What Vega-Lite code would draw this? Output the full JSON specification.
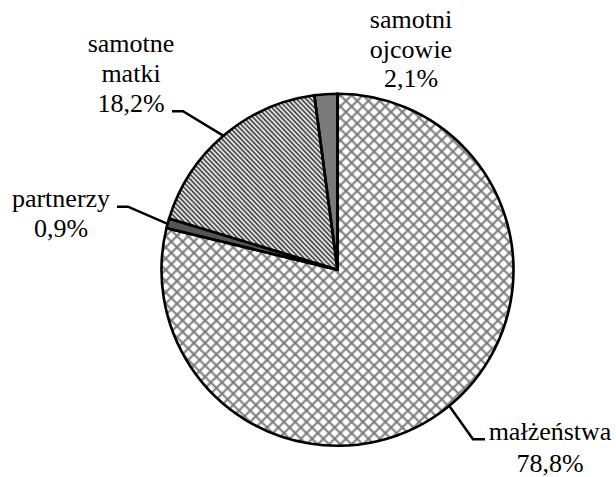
{
"$schema":"https://vega.github.io/schema/vega-lite/v6.json",
"width":616,"height":477,"padding":0,
"autosize":{"type":"fit","contains":"padding"},
"background":"white",
"config":{"view":{"stroke":null},"text":{"font":"'Liberation Serif', 'Times New Roman', serif"}},
"layer":[
{"data":{"values":[
{"cat":"małżeństwa","pct":78.8,"ord":1},
{"cat":"partnerzy","pct":0.9,"ord":2},
{"cat":"samotne matki","pct":18.2,"ord":3},
{"cat":"samotni ojcowie","pct":2.1,"ord":4}]},
"encoding":{
"theta":{"field":"pct","type":"quantitative","stack":true},
"order":{"field":"ord","type":"quantitative"},
"detail":{"field":"cat","type":"nominal"},
"x":{"datum":337.5,"type":"quantitative","scale":{"domain":[0,616]},"axis":null},
"y":{"datum":271.5,"type":"quantitative","scale":{"domain":[0,477],"reverse":true},"axis":null}},
"layer":[
{"mark":{"type":"arc","radius":176,"strokeWidth":0},
"encoding":{"fill":{"condition":[{"test":"datum.ord===2","value":"#555"},{"test":"datum.ord===4","value":"#7a7a7a"}],"value":"#ffffff"}}},
{"mark":{"type":"arc","radius":176,"strokeWidth":0,"fill":{"gradient":"linear","x1":0,"y1":0,"x2":1,"y2":1,"stops":[
{"offset":0,"color":"#777"},{"offset":0.004,"color":"#fff"},{"offset":0.012,"color":"#fff"},
{"offset":0.016,"color":"#777"},{"offset":0.02,"color":"#fff"},{"offset":0.028,"color":"#fff"},
{"offset":0.032,"color":"#777"},{"offset":0.036,"color":"#fff"},{"offset":0.044,"color":"#fff"},
{"offset":0.048,"color":"#777"},{"offset":0.052,"color":"#fff"},{"offset":0.06,"color":"#fff"},
{"offset":0.064,"color":"#777"},{"offset":0.068,"color":"#fff"},{"offset":0.076,"color":"#fff"},
{"offset":0.08,"color":"#777"},{"offset":0.084,"color":"#fff"},{"offset":0.092,"color":"#fff"},
{"offset":0.096,"color":"#777"},{"offset":0.1,"color":"#fff"},{"offset":0.108,"color":"#fff"},
{"offset":0.112,"color":"#777"},{"offset":0.116,"color":"#fff"},{"offset":0.124,"color":"#fff"},
{"offset":0.128,"color":"#777"},{"offset":0.132,"color":"#fff"},{"offset":0.14,"color":"#fff"},
{"offset":0.144,"color":"#777"},{"offset":0.148,"color":"#fff"},{"offset":0.156,"color":"#fff"},
{"offset":0.16,"color":"#777"},{"offset":0.164,"color":"#fff"},{"offset":0.172,"color":"#fff"},
{"offset":0.176,"color":"#777"},{"offset":0.18,"color":"#fff"},{"offset":0.188,"color":"#fff"},
{"offset":0.192,"color":"#777"},{"offset":0.196,"color":"#fff"},{"offset":0.204,"color":"#fff"},
{"offset":0.208,"color":"#777"},{"offset":0.212,"color":"#fff"},{"offset":0.22,"color":"#fff"},
{"offset":0.224,"color":"#777"},{"offset":0.228,"color":"#fff"},{"offset":0.236,"color":"#fff"},
{"offset":0.24,"color":"#777"},{"offset":0.244,"color":"#fff"},{"offset":0.252,"color":"#fff"},
{"offset":0.256,"color":"#777"},{"offset":0.26,"color":"#fff"},{"offset":0.268,"color":"#fff"},
{"offset":0.272,"color":"#777"},{"offset":0.276,"color":"#fff"},{"offset":0.284,"color":"#fff"},
{"offset":0.288,"color":"#777"},{"offset":0.292,"color":"#fff"},{"offset":0.3,"color":"#fff"},
{"offset":0.304,"color":"#777"},{"offset":0.308,"color":"#fff"},{"offset":0.316,"color":"#fff"},
{"offset":0.32,"color":"#777"},{"offset":0.324,"color":"#fff"},{"offset":0.332,"color":"#fff"},
{"offset":0.336,"color":"#777"},{"offset":0.34,"color":"#fff"},{"offset":0.348,"color":"#fff"},
{"offset":0.352,"color":"#777"},{"offset":0.356,"color":"#fff"},{"offset":0.364,"color":"#fff"},
{"offset":0.368,"color":"#777"},{"offset":0.372,"color":"#fff"},{"offset":0.38,"color":"#fff"},
{"offset":0.384,"color":"#777"},{"offset":0.388,"color":"#fff"},{"offset":0.396,"color":"#fff"},
{"offset":0.4,"color":"#777"},{"offset":0.404,"color":"#fff"},{"offset":0.412,"color":"#fff"},
{"offset":0.416,"color":"#777"},{"offset":0.42,"color":"#fff"},{"offset":0.428,"color":"#fff"},
{"offset":0.432,"color":"#777"},{"offset":0.436,"color":"#fff"},{"offset":0.444,"color":"#fff"},
{"offset":0.448,"color":"#777"},{"offset":0.452,"color":"#fff"},{"offset":0.46,"color":"#fff"},
{"offset":0.464,"color":"#777"},{"offset":0.468,"color":"#fff"},{"offset":0.476,"color":"#fff"},
{"offset":0.48,"color":"#777"},{"offset":0.484,"color":"#fff"},{"offset":0.492,"color":"#fff"},
{"offset":0.496,"color":"#777"},{"offset":0.5,"color":"#fff"},{"offset":0.508,"color":"#fff"},
{"offset":0.512,"color":"#777"},{"offset":0.516,"color":"#fff"},{"offset":0.524,"color":"#fff"},
{"offset":0.528,"color":"#777"},{"offset":0.532,"color":"#fff"},{"offset":0.54,"color":"#fff"},
{"offset":0.544,"color":"#777"},{"offset":0.548,"color":"#fff"},{"offset":0.556,"color":"#fff"},
{"offset":0.56,"color":"#777"},{"offset":0.564,"color":"#fff"},{"offset":0.572,"color":"#fff"},
{"offset":0.576,"color":"#777"},{"offset":0.58,"color":"#fff"},{"offset":0.588,"color":"#fff"},
{"offset":0.592,"color":"#777"},{"offset":0.596,"color":"#fff"},{"offset":0.604,"color":"#fff"},
{"offset":0.608,"color":"#777"},{"offset":0.612,"color":"#fff"},{"offset":0.62,"color":"#fff"},
{"offset":0.624,"color":"#777"},{"offset":0.628,"color":"#fff"},{"offset":0.636,"color":"#fff"},
{"offset":0.64,"color":"#777"},{"offset":0.644,"color":"#fff"},{"offset":0.652,"color":"#fff"},
{"offset":0.656,"color":"#777"},{"offset":0.66,"color":"#fff"},{"offset":0.668,"color":"#fff"},
{"offset":0.672,"color":"#777"},{"offset":0.676,"color":"#fff"},{"offset":0.684,"color":"#fff"},
{"offset":0.688,"color":"#777"},{"offset":0.692,"color":"#fff"},{"offset":0.7,"color":"#fff"},
{"offset":0.704,"color":"#777"},{"offset":0.708,"color":"#fff"},{"offset":0.716,"color":"#fff"},
{"offset":0.72,"color":"#777"},{"offset":0.724,"color":"#fff"},{"offset":0.732,"color":"#fff"},
{"offset":0.736,"color":"#777"},{"offset":0.74,"color":"#fff"},{"offset":0.748,"color":"#fff"},
{"offset":0.752,"color":"#777"},{"offset":0.756,"color":"#fff"},{"offset":0.764,"color":"#fff"},
{"offset":0.768,"color":"#777"},{"offset":0.772,"color":"#fff"},{"offset":0.78,"color":"#fff"},
{"offset":0.784,"color":"#777"},{"offset":0.788,"color":"#fff"},{"offset":0.796,"color":"#fff"},
{"offset":0.8,"color":"#777"},{"offset":0.804,"color":"#fff"},{"offset":0.812,"color":"#fff"},
{"offset":0.816,"color":"#777"},{"offset":0.82,"color":"#fff"},{"offset":0.828,"color":"#fff"},
{"offset":0.832,"color":"#777"},{"offset":0.836,"color":"#fff"},{"offset":0.844,"color":"#fff"},
{"offset":0.848,"color":"#777"},{"offset":0.852,"color":"#fff"},{"offset":0.86,"color":"#fff"},
{"offset":0.864,"color":"#777"},{"offset":0.868,"color":"#fff"},{"offset":0.876,"color":"#fff"},
{"offset":0.88,"color":"#777"},{"offset":0.884,"color":"#fff"},{"offset":0.892,"color":"#fff"},
{"offset":0.896,"color":"#777"},{"offset":0.9,"color":"#fff"},{"offset":0.908,"color":"#fff"},
{"offset":0.912,"color":"#777"},{"offset":0.916,"color":"#fff"},{"offset":0.924,"color":"#fff"},
{"offset":0.928,"color":"#777"},{"offset":0.932,"color":"#fff"},{"offset":0.94,"color":"#fff"},
{"offset":0.944,"color":"#777"},{"offset":0.948,"color":"#fff"},{"offset":0.956,"color":"#fff"},
{"offset":0.96,"color":"#777"},{"offset":0.964,"color":"#fff"},{"offset":0.972,"color":"#fff"},
{"offset":0.976,"color":"#777"},{"offset":0.98,"color":"#fff"},{"offset":0.988,"color":"#fff"},
{"offset":0.992,"color":"#777"},{"offset":0.996,"color":"#fff"},{"offset":1,"color":"#fff"}]}},
"encoding":{"fillOpacity":{"condition":{"test":"datum.ord===1","value":1},"value":0}}},
{"mark":{"type":"arc","radius":176,"strokeWidth":0,"fill":{"gradient":"linear","x1":0,"y1":1,"x2":1,"y2":0,"stops":[
{"offset":0,"color":"rgba(119,119,119,1)"},{"offset":0.004,"color":"rgba(119,119,119,0)"},{"offset":0.012,"color":"rgba(119,119,119,0)"},
{"offset":0.016,"color":"rgba(119,119,119,1)"},{"offset":0.02,"color":"rgba(119,119,119,0)"},{"offset":0.028,"color":"rgba(119,119,119,0)"},
{"offset":0.032,"color":"rgba(119,119,119,1)"},{"offset":0.036,"color":"rgba(119,119,119,0)"},{"offset":0.044,"color":"rgba(119,119,119,0)"},
{"offset":0.048,"color":"rgba(119,119,119,1)"},{"offset":0.052,"color":"rgba(119,119,119,0)"},{"offset":0.06,"color":"rgba(119,119,119,0)"},
{"offset":0.064,"color":"rgba(119,119,119,1)"},{"offset":0.068,"color":"rgba(119,119,119,0)"},{"offset":0.076,"color":"rgba(119,119,119,0)"},
{"offset":0.08,"color":"rgba(119,119,119,1)"},{"offset":0.084,"color":"rgba(119,119,119,0)"},{"offset":0.092,"color":"rgba(119,119,119,0)"},
{"offset":0.096,"color":"rgba(119,119,119,1)"},{"offset":0.1,"color":"rgba(119,119,119,0)"},{"offset":0.108,"color":"rgba(119,119,119,0)"},
{"offset":0.112,"color":"rgba(119,119,119,1)"},{"offset":0.116,"color":"rgba(119,119,119,0)"},{"offset":0.124,"color":"rgba(119,119,119,0)"},
{"offset":0.128,"color":"rgba(119,119,119,1)"},{"offset":0.132,"color":"rgba(119,119,119,0)"},{"offset":0.14,"color":"rgba(119,119,119,0)"},
{"offset":0.144,"color":"rgba(119,119,119,1)"},{"offset":0.148,"color":"rgba(119,119,119,0)"},{"offset":0.156,"color":"rgba(119,119,119,0)"},
{"offset":0.16,"color":"rgba(119,119,119,1)"},{"offset":0.164,"color":"rgba(119,119,119,0)"},{"offset":0.172,"color":"rgba(119,119,119,0)"},
{"offset":0.176,"color":"rgba(119,119,119,1)"},{"offset":0.18,"color":"rgba(119,119,119,0)"},{"offset":0.188,"color":"rgba(119,119,119,0)"},
{"offset":0.192,"color":"rgba(119,119,119,1)"},{"offset":0.196,"color":"rgba(119,119,119,0)"},{"offset":0.204,"color":"rgba(119,119,119,0)"},
{"offset":0.208,"color":"rgba(119,119,119,1)"},{"offset":0.212,"color":"rgba(119,119,119,0)"},{"offset":0.22,"color":"rgba(119,119,119,0)"},
{"offset":0.224,"color":"rgba(119,119,119,1)"},{"offset":0.228,"color":"rgba(119,119,119,0)"},{"offset":0.236,"color":"rgba(119,119,119,0)"},
{"offset":0.24,"color":"rgba(119,119,119,1)"},{"offset":0.244,"color":"rgba(119,119,119,0)"},{"offset":0.252,"color":"rgba(119,119,119,0)"},
{"offset":0.256,"color":"rgba(119,119,119,1)"},{"offset":0.26,"color":"rgba(119,119,119,0)"},{"offset":0.268,"color":"rgba(119,119,119,0)"},
{"offset":0.272,"color":"rgba(119,119,119,1)"},{"offset":0.276,"color":"rgba(119,119,119,0)"},{"offset":0.284,"color":"rgba(119,119,119,0)"},
{"offset":0.288,"color":"rgba(119,119,119,1)"},{"offset":0.292,"color":"rgba(119,119,119,0)"},{"offset":0.3,"color":"rgba(119,119,119,0)"},
{"offset":0.304,"color":"rgba(119,119,119,1)"},{"offset":0.308,"color":"rgba(119,119,119,0)"},{"offset":0.316,"color":"rgba(119,119,119,0)"},
{"offset":0.32,"color":"rgba(119,119,119,1)"},{"offset":0.324,"color":"rgba(119,119,119,0)"},{"offset":0.332,"color":"rgba(119,119,119,0)"},
{"offset":0.336,"color":"rgba(119,119,119,1)"},{"offset":0.34,"color":"rgba(119,119,119,0)"},{"offset":0.348,"color":"rgba(119,119,119,0)"},
{"offset":0.352,"color":"rgba(119,119,119,1)"},{"offset":0.356,"color":"rgba(119,119,119,0)"},{"offset":0.364,"color":"rgba(119,119,119,0)"},
{"offset":0.368,"color":"rgba(119,119,119,1)"},{"offset":0.372,"color":"rgba(119,119,119,0)"},{"offset":0.38,"color":"rgba(119,119,119,0)"},
{"offset":0.384,"color":"rgba(119,119,119,1)"},{"offset":0.388,"color":"rgba(119,119,119,0)"},{"offset":0.396,"color":"rgba(119,119,119,0)"},
{"offset":0.4,"color":"rgba(119,119,119,1)"},{"offset":0.404,"color":"rgba(119,119,119,0)"},{"offset":0.412,"color":"rgba(119,119,119,0)"},
{"offset":0.416,"color":"rgba(119,119,119,1)"},{"offset":0.42,"color":"rgba(119,119,119,0)"},{"offset":0.428,"color":"rgba(119,119,119,0)"},
{"offset":0.432,"color":"rgba(119,119,119,1)"},{"offset":0.436,"color":"rgba(119,119,119,0)"},{"offset":0.444,"color":"rgba(119,119,119,0)"},
{"offset":0.448,"color":"rgba(119,119,119,1)"},{"offset":0.452,"color":"rgba(119,119,119,0)"},{"offset":0.46,"color":"rgba(119,119,119,0)"},
{"offset":0.464,"color":"rgba(119,119,119,1)"},{"offset":0.468,"color":"rgba(119,119,119,0)"},{"offset":0.476,"color":"rgba(119,119,119,0)"},
{"offset":0.48,"color":"rgba(119,119,119,1)"},{"offset":0.484,"color":"rgba(119,119,119,0)"},{"offset":0.492,"color":"rgba(119,119,119,0)"},
{"offset":0.496,"color":"rgba(119,119,119,1)"},{"offset":0.5,"color":"rgba(119,119,119,0)"},{"offset":0.508,"color":"rgba(119,119,119,0)"},
{"offset":0.512,"color":"rgba(119,119,119,1)"},{"offset":0.516,"color":"rgba(119,119,119,0)"},{"offset":0.524,"color":"rgba(119,119,119,0)"},
{"offset":0.528,"color":"rgba(119,119,119,1)"},{"offset":0.532,"color":"rgba(119,119,119,0)"},{"offset":0.54,"color":"rgba(119,119,119,0)"},
{"offset":0.544,"color":"rgba(119,119,119,1)"},{"offset":0.548,"color":"rgba(119,119,119,0)"},{"offset":0.556,"color":"rgba(119,119,119,0)"},
{"offset":0.56,"color":"rgba(119,119,119,1)"},{"offset":0.564,"color":"rgba(119,119,119,0)"},{"offset":0.572,"color":"rgba(119,119,119,0)"},
{"offset":0.576,"color":"rgba(119,119,119,1)"},{"offset":0.58,"color":"rgba(119,119,119,0)"},{"offset":0.588,"color":"rgba(119,119,119,0)"},
{"offset":0.592,"color":"rgba(119,119,119,1)"},{"offset":0.596,"color":"rgba(119,119,119,0)"},{"offset":0.604,"color":"rgba(119,119,119,0)"},
{"offset":0.608,"color":"rgba(119,119,119,1)"},{"offset":0.612,"color":"rgba(119,119,119,0)"},{"offset":0.62,"color":"rgba(119,119,119,0)"},
{"offset":0.624,"color":"rgba(119,119,119,1)"},{"offset":0.628,"color":"rgba(119,119,119,0)"},{"offset":0.636,"color":"rgba(119,119,119,0)"},
{"offset":0.64,"color":"rgba(119,119,119,1)"},{"offset":0.644,"color":"rgba(119,119,119,0)"},{"offset":0.652,"color":"rgba(119,119,119,0)"},
{"offset":0.656,"color":"rgba(119,119,119,1)"},{"offset":0.66,"color":"rgba(119,119,119,0)"},{"offset":0.668,"color":"rgba(119,119,119,0)"},
{"offset":0.672,"color":"rgba(119,119,119,1)"},{"offset":0.676,"color":"rgba(119,119,119,0)"},{"offset":0.684,"color":"rgba(119,119,119,0)"},
{"offset":0.688,"color":"rgba(119,119,119,1)"},{"offset":0.692,"color":"rgba(119,119,119,0)"},{"offset":0.7,"color":"rgba(119,119,119,0)"},
{"offset":0.704,"color":"rgba(119,119,119,1)"},{"offset":0.708,"color":"rgba(119,119,119,0)"},{"offset":0.716,"color":"rgba(119,119,119,0)"},
{"offset":0.72,"color":"rgba(119,119,119,1)"},{"offset":0.724,"color":"rgba(119,119,119,0)"},{"offset":0.732,"color":"rgba(119,119,119,0)"},
{"offset":0.736,"color":"rgba(119,119,119,1)"},{"offset":0.74,"color":"rgba(119,119,119,0)"},{"offset":0.748,"color":"rgba(119,119,119,0)"},
{"offset":0.752,"color":"rgba(119,119,119,1)"},{"offset":0.756,"color":"rgba(119,119,119,0)"},{"offset":0.764,"color":"rgba(119,119,119,0)"},
{"offset":0.768,"color":"rgba(119,119,119,1)"},{"offset":0.772,"color":"rgba(119,119,119,0)"},{"offset":0.78,"color":"rgba(119,119,119,0)"},
{"offset":0.784,"color":"rgba(119,119,119,1)"},{"offset":0.788,"color":"rgba(119,119,119,0)"},{"offset":0.796,"color":"rgba(119,119,119,0)"},
{"offset":0.8,"color":"rgba(119,119,119,1)"},{"offset":0.804,"color":"rgba(119,119,119,0)"},{"offset":0.812,"color":"rgba(119,119,119,0)"},
{"offset":0.816,"color":"rgba(119,119,119,1)"},{"offset":0.82,"color":"rgba(119,119,119,0)"},{"offset":0.828,"color":"rgba(119,119,119,0)"},
{"offset":0.832,"color":"rgba(119,119,119,1)"},{"offset":0.836,"color":"rgba(119,119,119,0)"},{"offset":0.844,"color":"rgba(119,119,119,0)"},
{"offset":0.848,"color":"rgba(119,119,119,1)"},{"offset":0.852,"color":"rgba(119,119,119,0)"},{"offset":0.86,"color":"rgba(119,119,119,0)"},
{"offset":0.864,"color":"rgba(119,119,119,1)"},{"offset":0.868,"color":"rgba(119,119,119,0)"},{"offset":0.876,"color":"rgba(119,119,119,0)"},
{"offset":0.88,"color":"rgba(119,119,119,1)"},{"offset":0.884,"color":"rgba(119,119,119,0)"},{"offset":0.892,"color":"rgba(119,119,119,0)"},
{"offset":0.896,"color":"rgba(119,119,119,1)"},{"offset":0.9,"color":"rgba(119,119,119,0)"},{"offset":0.908,"color":"rgba(119,119,119,0)"},
{"offset":0.912,"color":"rgba(119,119,119,1)"},{"offset":0.916,"color":"rgba(119,119,119,0)"},{"offset":0.924,"color":"rgba(119,119,119,0)"},
{"offset":0.928,"color":"rgba(119,119,119,1)"},{"offset":0.932,"color":"rgba(119,119,119,0)"},{"offset":0.94,"color":"rgba(119,119,119,0)"},
{"offset":0.944,"color":"rgba(119,119,119,1)"},{"offset":0.948,"color":"rgba(119,119,119,0)"},{"offset":0.956,"color":"rgba(119,119,119,0)"},
{"offset":0.96,"color":"rgba(119,119,119,1)"},{"offset":0.964,"color":"rgba(119,119,119,0)"},{"offset":0.972,"color":"rgba(119,119,119,0)"},
{"offset":0.976,"color":"rgba(119,119,119,1)"},{"offset":0.98,"color":"rgba(119,119,119,0)"},{"offset":0.988,"color":"rgba(119,119,119,0)"},
{"offset":0.992,"color":"rgba(119,119,119,1)"},{"offset":0.996,"color":"rgba(119,119,119,0)"},{"offset":1,"color":"rgba(119,119,119,0)"}]}},
"encoding":{"fillOpacity":{"condition":{"test":"datum.ord===1","value":1},"value":0}}},
{"mark":{"type":"arc","radius":176,"strokeWidth":0,"fill":{"gradient":"linear","x1":0,"y1":1,"x2":1,"y2":0,"stops":[
{"offset":0,"color":"#333"},{"offset":0.007,"color":"#fff"},{"offset":0.014,"color":"#333"},{"offset":0.021,"color":"#fff"},
{"offset":0.028,"color":"#333"},{"offset":0.035,"color":"#fff"},{"offset":0.042,"color":"#333"},{"offset":0.049,"color":"#fff"},
{"offset":0.056,"color":"#333"},{"offset":0.063,"color":"#fff"},{"offset":0.07,"color":"#333"},{"offset":0.077,"color":"#fff"},
{"offset":0.084,"color":"#333"},{"offset":0.091,"color":"#fff"},{"offset":0.098,"color":"#333"},{"offset":0.105,"color":"#fff"},
{"offset":0.112,"color":"#333"},{"offset":0.119,"color":"#fff"},{"offset":0.126,"color":"#333"},{"offset":0.133,"color":"#fff"},
{"offset":0.14,"color":"#333"},{"offset":0.147,"color":"#fff"},{"offset":0.154,"color":"#333"},{"offset":0.161,"color":"#fff"},
{"offset":0.168,"color":"#333"},{"offset":0.175,"color":"#fff"},{"offset":0.182,"color":"#333"},{"offset":0.189,"color":"#fff"},
{"offset":0.196,"color":"#333"},{"offset":0.203,"color":"#fff"},{"offset":0.21,"color":"#333"},{"offset":0.217,"color":"#fff"},
{"offset":0.224,"color":"#333"},{"offset":0.231,"color":"#fff"},{"offset":0.238,"color":"#333"},{"offset":0.245,"color":"#fff"},
{"offset":0.252,"color":"#333"},{"offset":0.259,"color":"#fff"},{"offset":0.266,"color":"#333"},{"offset":0.273,"color":"#fff"},
{"offset":0.28,"color":"#333"},{"offset":0.287,"color":"#fff"},{"offset":0.294,"color":"#333"},{"offset":0.301,"color":"#fff"},
{"offset":0.308,"color":"#333"},{"offset":0.315,"color":"#fff"},{"offset":0.322,"color":"#333"},{"offset":0.329,"color":"#fff"},
{"offset":0.336,"color":"#333"},{"offset":0.343,"color":"#fff"},{"offset":0.35,"color":"#333"},{"offset":0.357,"color":"#fff"},
{"offset":0.364,"color":"#333"},{"offset":0.371,"color":"#fff"},{"offset":0.378,"color":"#333"},{"offset":0.385,"color":"#fff"},
{"offset":0.392,"color":"#333"},{"offset":0.399,"color":"#fff"},{"offset":0.406,"color":"#333"},{"offset":0.413,"color":"#fff"},
{"offset":0.42,"color":"#333"},{"offset":0.427,"color":"#fff"},{"offset":0.434,"color":"#333"},{"offset":0.441,"color":"#fff"},
{"offset":0.448,"color":"#333"},{"offset":0.455,"color":"#fff"},{"offset":0.462,"color":"#333"},{"offset":0.469,"color":"#fff"},
{"offset":0.476,"color":"#333"},{"offset":0.483,"color":"#fff"},{"offset":0.49,"color":"#333"},{"offset":0.497,"color":"#fff"},
{"offset":0.504,"color":"#333"},{"offset":0.511,"color":"#fff"},{"offset":0.518,"color":"#333"},{"offset":0.525,"color":"#fff"},
{"offset":0.532,"color":"#333"},{"offset":0.539,"color":"#fff"},{"offset":0.546,"color":"#333"},{"offset":0.553,"color":"#fff"},
{"offset":0.56,"color":"#333"},{"offset":0.567,"color":"#fff"},{"offset":0.574,"color":"#333"},{"offset":0.581,"color":"#fff"},
{"offset":0.588,"color":"#333"},{"offset":0.595,"color":"#fff"},{"offset":0.602,"color":"#333"},{"offset":0.609,"color":"#fff"},
{"offset":0.616,"color":"#333"},{"offset":0.623,"color":"#fff"},{"offset":0.63,"color":"#333"},{"offset":0.637,"color":"#fff"},
{"offset":0.644,"color":"#333"},{"offset":0.651,"color":"#fff"},{"offset":0.658,"color":"#333"},{"offset":0.665,"color":"#fff"},
{"offset":0.672,"color":"#333"},{"offset":0.679,"color":"#fff"},{"offset":0.686,"color":"#333"},{"offset":0.693,"color":"#fff"},
{"offset":0.7,"color":"#333"},{"offset":0.707,"color":"#fff"},{"offset":0.714,"color":"#333"},{"offset":0.721,"color":"#fff"},
{"offset":0.728,"color":"#333"},{"offset":0.735,"color":"#fff"},{"offset":0.742,"color":"#333"},{"offset":0.749,"color":"#fff"},
{"offset":0.756,"color":"#333"},{"offset":0.763,"color":"#fff"},{"offset":0.77,"color":"#333"},{"offset":0.777,"color":"#fff"},
{"offset":0.784,"color":"#333"},{"offset":0.791,"color":"#fff"},{"offset":0.798,"color":"#333"},{"offset":0.805,"color":"#fff"},
{"offset":0.812,"color":"#333"},{"offset":0.819,"color":"#fff"},{"offset":0.826,"color":"#333"},{"offset":0.833,"color":"#fff"},
{"offset":0.84,"color":"#333"},{"offset":0.847,"color":"#fff"},{"offset":0.854,"color":"#333"},{"offset":0.861,"color":"#fff"},
{"offset":0.868,"color":"#333"},{"offset":0.875,"color":"#fff"},{"offset":0.882,"color":"#333"},{"offset":0.889,"color":"#fff"},
{"offset":0.896,"color":"#333"},{"offset":0.903,"color":"#fff"},{"offset":0.91,"color":"#333"},{"offset":0.917,"color":"#fff"},
{"offset":0.924,"color":"#333"},{"offset":0.931,"color":"#fff"},{"offset":0.938,"color":"#333"},{"offset":0.945,"color":"#fff"},
{"offset":0.952,"color":"#333"},{"offset":0.959,"color":"#fff"},{"offset":0.966,"color":"#333"},{"offset":0.973,"color":"#fff"},
{"offset":0.98,"color":"#333"},{"offset":0.987,"color":"#fff"},{"offset":0.994,"color":"#333"},{"offset":1,"color":"#fff"}]}},
"encoding":{"fillOpacity":{"condition":{"test":"datum.ord===3","value":1},"value":0}}},
{"mark":{"type":"arc","radius":176,"fillOpacity":0,"stroke":"#000","strokeWidth":2.6}}
]},
{"data":{"values":[
{"g":"m","o":1,"x":172,"y":112},{"g":"m","o":2,"x":183,"y":112},{"g":"m","o":3,"x":224,"y":137},
{"g":"p","o":1,"x":117,"y":208},{"g":"p","o":2,"x":128,"y":208},{"g":"p","o":3,"x":167,"y":225},
{"g":"z","o":1,"x":449,"y":408},{"g":"z","o":2,"x":473,"y":442},{"g":"z","o":3,"x":485,"y":442}]},
"mark":{"type":"line","stroke":"#000","strokeWidth":2.5},
"encoding":{
"x":{"field":"x","type":"quantitative","scale":{"domain":[0,616]},"axis":null},
"y":{"field":"y","type":"quantitative","scale":{"domain":[0,477],"reverse":true},"axis":null},
"detail":{"field":"g","type":"nominal"},
"order":{"field":"o","type":"quantitative"}}},
{"data":{"values":[
{"t":"samotni","x":411,"y":28},{"t":"ojcowie","x":411,"y":58},{"t":"2,1%","x":411,"y":88},
{"t":"samotne","x":131,"y":52},{"t":"matki","x":131,"y":83},{"t":"18,2%","x":131,"y":113},
{"t":"partnerzy","x":61,"y":208},{"t":"0,9%","x":61,"y":238},
{"t":"małżeństwa","x":550,"y":443},{"t":"78,8%","x":550,"y":475}]},
"mark":{"type":"text","font":"'Liberation Serif', 'Times New Roman', serif","fontSize":26,"align":"center","baseline":"alphabetic","color":"#000"},
"encoding":{
"x":{"field":"x","type":"quantitative","scale":{"domain":[0,616]},"axis":null},
"y":{"field":"y","type":"quantitative","scale":{"domain":[0,477],"reverse":true},"axis":null},
"text":{"field":"t","type":"nominal"}}}
]
}
